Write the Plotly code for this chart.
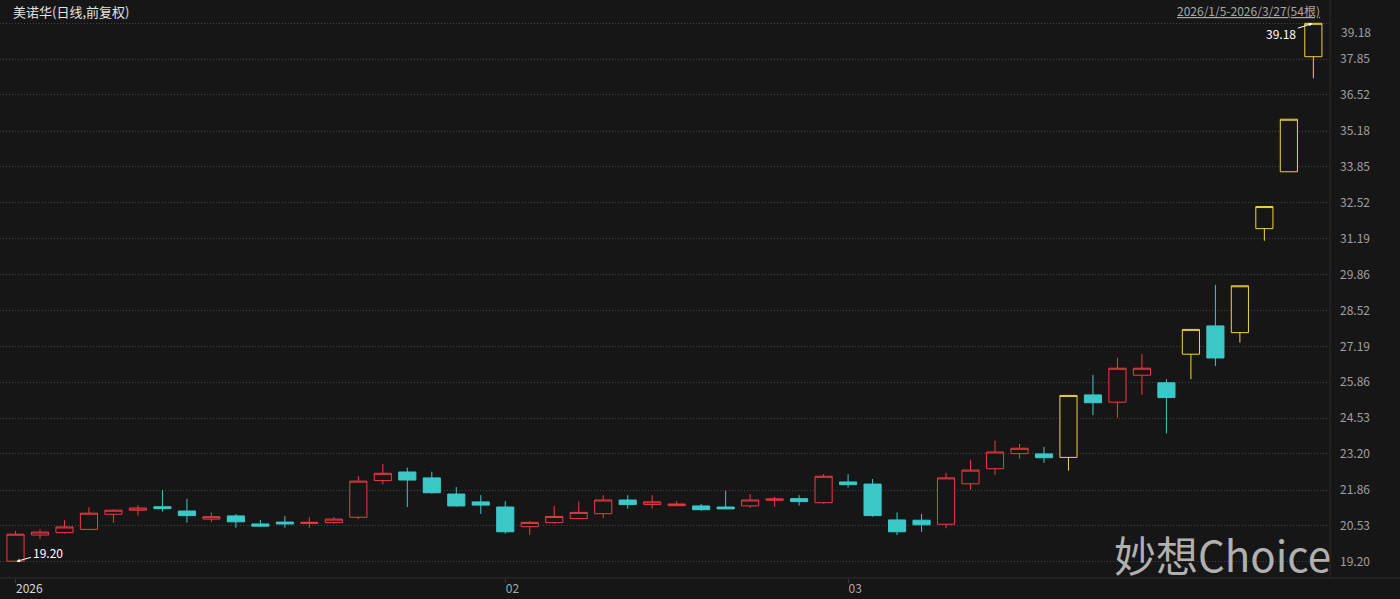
import plotly.graph_objects as go

# ---------------- data ----------------
dates = [
    "2026-01-05", "2026-01-06", "2026-01-07", "2026-01-08", "2026-01-09",
    "2026-01-12", "2026-01-13", "2026-01-14", "2026-01-15", "2026-01-16",
    "2026-01-19", "2026-01-20", "2026-01-21", "2026-01-22", "2026-01-23",
    "2026-01-26", "2026-01-27", "2026-01-28", "2026-01-29", "2026-01-30",
    "2026-02-02", "2026-02-03", "2026-02-04", "2026-02-05", "2026-02-06",
    "2026-02-09", "2026-02-10", "2026-02-11", "2026-02-12", "2026-02-13",
    "2026-02-24", "2026-02-25", "2026-02-26", "2026-02-27",
    "2026-03-02", "2026-03-03", "2026-03-04", "2026-03-05", "2026-03-06",
    "2026-03-09", "2026-03-10", "2026-03-11", "2026-03-12", "2026-03-13",
    "2026-03-16", "2026-03-17", "2026-03-18", "2026-03-19", "2026-03-20",
    "2026-03-23", "2026-03-24", "2026-03-25", "2026-03-26", "2026-03-27",
]
open_ = [19.22, 20.19, 20.28, 20.40, 20.96, 21.11, 21.24, 21.08, 20.78, 20.90,
         20.60, 20.67, 20.62, 20.65, 20.85, 22.21, 22.53, 22.31, 21.71, 21.42,
         21.23, 20.50, 20.65, 20.80, 20.98, 21.49, 21.32, 21.28, 21.27, 21.23,
         21.27, 21.48, 21.54, 21.39, 22.16, 22.08, 20.75, 20.74, 20.59, 22.09,
         22.65, 23.21, 23.20, 23.07, 25.39, 25.12, 26.12, 25.84, 26.90, 27.95,
         27.70, 31.56, 33.67, 37.94]
high = [20.34, 20.41, 20.74, 21.22, 21.15, 21.30, 21.86, 21.53, 21.03, 20.97,
        20.75, 20.90, 20.85, 20.86, 22.38, 22.83, 22.69, 22.54, 21.97, 21.67,
        21.45, 20.71, 21.27, 21.43, 21.67, 21.67, 21.67, 21.45, 21.34, 21.83,
        21.71, 21.60, 21.67, 22.45, 22.45, 22.27, 21.03, 20.97, 22.50, 22.97,
        23.69, 23.57, 23.46, 25.37, 26.13, 26.77, 26.91, 25.97, 27.82, 29.47,
        29.44, 32.38, 35.62, 39.18]
low = [19.20, 20.04, 20.24, 20.40, 20.65, 20.91, 21.06, 20.65, 20.68, 20.46,
       20.50, 20.46, 20.46, 20.61, 20.78, 22.07, 21.23, 21.72, 21.24, 20.97,
       20.24, 20.19, 20.60, 20.78, 20.81, 21.17, 21.17, 21.26, 21.09, 21.15,
       21.19, 21.24, 21.28, 21.35, 21.95, 20.87, 20.19, 20.31, 20.44, 21.87,
       22.42, 23.02, 22.87, 22.58, 24.64, 24.54, 25.39, 23.96, 25.97, 26.46,
       27.33, 31.11, 33.67, 37.14]
close = [20.22, 20.30, 20.49, 21.00, 21.11, 21.19, 21.17, 20.91, 20.87, 20.68,
         20.52, 20.60, 20.66, 20.78, 22.19, 22.48, 22.23, 21.76, 21.27, 21.30,
         20.31, 20.66, 20.88, 21.03, 21.49, 21.32, 21.42, 21.34, 21.13, 21.16,
         21.49, 21.53, 21.43, 22.37, 22.06, 20.91, 20.31, 20.57, 22.31, 22.60,
         23.27, 23.41, 23.06, 25.37, 25.10, 26.38, 26.38, 25.29, 27.82, 26.76,
         29.44, 32.38, 35.62, 39.18]

y_ticks = [19.20, 20.53, 21.86, 23.20, 24.53, 25.86, 27.19, 28.52, 29.86,
           31.19, 32.52, 33.85, 35.18, 36.52, 37.85, 39.18]
x_tick_dates = ["2026-01-05", "2026-02-02", "2026-03-02"]
x_tick_labels = ["2026", "02", "03"]

title_text = "美诺华(日线,前复权)"
range_text = "2026/1/5-2026/3/27(54根)"
watermark = "妙想Choice"

# ---------------- styles ----------------
BG = "#161616"
RED = "#f23a44"
CYAN = "#3cc8c8"
YELLOW = "#f2d33c"
GRID = "#444444"
FONT = "Noto Sans CJK SC, Noto Sans, sans-serif"

# limit-up days (close reaches +10% of previous close)
limit = [i > 0 and close[i] >= close[i - 1] * 1.1 - 0.006 for i in range(len(dates))]
norm_idx = [i for i in range(len(dates)) if not limit[i]]
lim_idx = [i for i in range(len(dates)) if limit[i]]

def pick(arr, idx):
    return [arr[i] for i in idx]

fig = go.Figure()
fig.add_trace(go.Candlestick(
    x=pick(dates, norm_idx), open=pick(open_, norm_idx), high=pick(high, norm_idx),
    low=pick(low, norm_idx), close=pick(close, norm_idx),
    increasing=dict(line=dict(color=RED, width=1), fillcolor=BG),
    decreasing=dict(line=dict(color=CYAN, width=1), fillcolor=CYAN),
    whiskerwidth=0, hoverinfo="skip", name="K",
))
fig.add_trace(go.Candlestick(
    x=pick(dates, lim_idx), open=pick(open_, lim_idx), high=pick(high, lim_idx),
    low=pick(low, lim_idx), close=pick(close, lim_idx),
    increasing=dict(line=dict(color=YELLOW, width=1), fillcolor=BG),
    decreasing=dict(line=dict(color=YELLOW, width=1), fillcolor=BG),
    whiskerwidth=0, hoverinfo="skip", name="涨停",
))

PLOT_W = 1330.0
PLOT_H = 560.0
BOTTOM = 578.0

def px_x(x):
    return x / PLOT_W

def px_y(y):
    return (BOTTOM - y) / PLOT_H

ticktext = [
    "<span style='color:#d8d8d8'>%s</span>" % x_tick_labels[0],
    x_tick_labels[1], x_tick_labels[2],
]

# top y label is drawn slightly lower (kept inside the frame), like the source
y_ticktext = ["%.2f" % v for v in y_ticks]
y_ticktext[-1] = ""

fig.update_layout(
    width=1400, height=599,
    paper_bgcolor=BG, plot_bgcolor=BG,
    margin=dict(l=0, r=70, t=18, b=21),
    showlegend=False,
    boxgap=0.3, boxgroupgap=0.0,
    font=dict(family=FONT, color="#a8a8a8", size=12),
    xaxis=dict(
        type="category", categoryorder="array", categoryarray=dates,
        range=[-0.633, 53.68], rangeslider=dict(visible=False),
        showgrid=False, zeroline=False,
        tickvals=x_tick_dates, ticktext=ticktext,
        ticks="outside", ticklen=4, tickcolor="#3c3c3c",
        ticklabelposition="outside right",
        tickfont=dict(size=12, color="#a8a8a8", family=FONT),
        showline=False, automargin=False,
    ),
    yaxis=dict(
        side="right", range=[18.595, 39.377],
        tickvals=y_ticks, ticktext=y_ticktext,
        showgrid=True, gridcolor=GRID, griddash="1px,2px", gridwidth=1,
        zeroline=False, ticks="", ticklabelstandoff=9,
        tickfont=dict(size=12, color="#a0a0a0", family=FONT),
        showline=False, automargin=False,
    ),
)

fig.add_annotation(text="%.2f" % y_ticks[-1], xref="paper", yref="paper",
                   x=px_x(1339), y=px_y(31), xanchor="left", yanchor="middle",
                   showarrow=False, font=dict(size=12, color="#a0a0a0", family=FONT))

# frame lines
fig.add_shape(type="line", xref="paper", yref="paper",
              x0=0, x1=1400 / PLOT_W, y0=0, y1=0,
              line=dict(color="#2e2e2e", width=1))
fig.add_shape(type="line", xref="paper", yref="paper",
              x0=1, x1=1, y0=0, y1=px_y(0),
              line=dict(color="#2a2a2a", width=1))

# header texts
fig.add_annotation(text=title_text, xref="paper", yref="paper",
                   x=px_x(11), y=px_y(11), xanchor="left", yanchor="middle",
                   showarrow=False, font=dict(size=13, color="#e2e2e2", family=FONT))
fig.add_annotation(text="<u>%s</u>" % range_text, xref="paper", yref="paper",
                   x=px_x(1322), y=px_y(10), xanchor="right", yanchor="middle",
                   showarrow=False, font=dict(size=12, color="#a8a8a8", family=FONT))

# min / max markers
i_min = low.index(min(low))
i_max = high.index(max(high))
fig.add_annotation(x=dates[i_min], y=low[i_min], text="%.2f" % low[i_min],
                   showarrow=True, ax=32, ay=-9, arrowhead=2, arrowsize=0.7,
                   arrowwidth=1, arrowcolor="#ffffff", standoff=1,
                   font=dict(size=12, color="#ffffff", family=FONT))
fig.add_annotation(x=dates[i_max], y=high[i_max], text="%.2f" % high[i_max],
                   showarrow=True, ax=-32, ay=10, arrowhead=2, arrowsize=0.7,
                   arrowwidth=1, arrowcolor="#ffffff", standoff=1,
                   font=dict(size=12, color="#ffffff", family=FONT))

# watermark
fig.add_annotation(text=watermark, xref="paper", yref="paper",
                   x=px_x(1222), y=px_y(553), xanchor="center", yanchor="middle",
                   showarrow=False,
                   font=dict(size=42, color="rgba(205,205,205,0.85)", family=FONT))

fig.write_html("out.html", config={"displayModeBar": False},
               post_script="document.body.style.margin='0';")
